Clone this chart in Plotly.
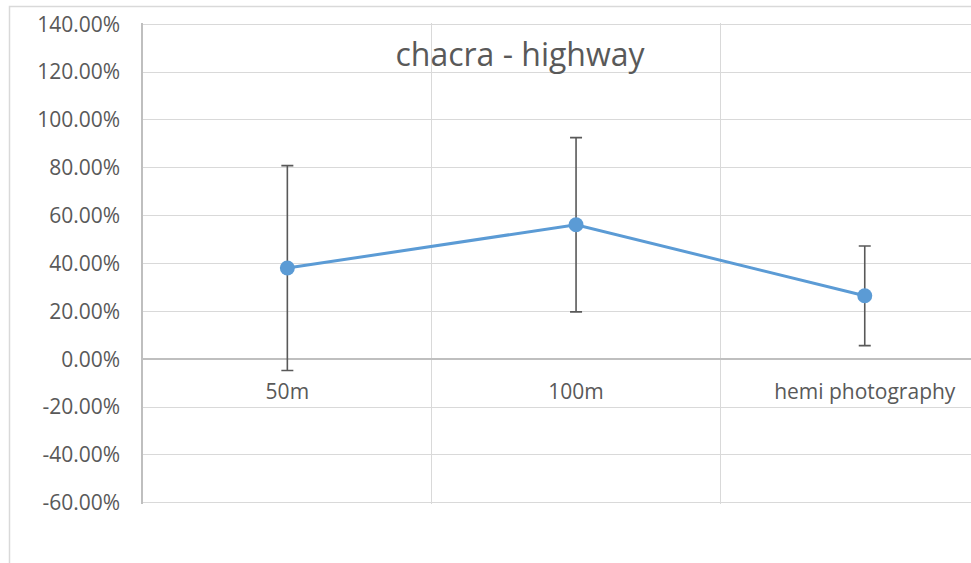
import plotly.graph_objects as go

categories = ["50m", "100m", "hemi photography"]
values = [0.381, 0.562, 0.265]
errors = [0.428, 0.364, 0.208]
y_ticks = [-0.6, -0.4, -0.2, 0.0, 0.2, 0.4, 0.6, 0.8, 1.0, 1.2, 1.4]
y_tick_labels = ["-60.00%", "-40.00%", "-20.00%", "0.00%", "20.00%", "40.00%",
                 "60.00%", "80.00%", "100.00%", "120.00%", "140.00%"]

FONT = "Open Sans"
TXT = "#595959"

W, H = 971, 563
L, T, B = 143, 23, 59
PW = W - L
PH = H - T - B
Y0, Y1 = -0.605, 1.405

fig = go.Figure()
fig.add_trace(go.Scatter(
    x=categories, y=values,
    mode="lines+markers",
    line=dict(color="#5b9bd5", width=3),
    marker=dict(color="#5b9bd5", size=15),
    error_y=dict(type="data", array=errors, visible=True,
                 color="#595959", thickness=1.6, width=6),
    showlegend=False,
    cliponaxis=False,
))

fig.update_layout(
    width=W, height=H,
    margin=dict(l=L, r=0, t=T, b=B),
    paper_bgcolor="white", plot_bgcolor="white",
    font=dict(family=FONT, color=TXT, size=21),
    title=dict(text="chacra - highway", x=520 / W, xref="container", xanchor="center",
               y=1 - 55 / H, yref="container", yanchor="middle",
               font=dict(family=FONT, size=32, color=TXT)),
    xaxis=dict(type="category", tickson="boundaries", range=[-0.5, -0.5 + PW / 288.7],
               showgrid=True, gridcolor="#d9d9d9", gridwidth=1,
               anchor="free", position=(0 - Y0) / (Y1 - Y0), showline=False, ticks="",
               ticklabelstandoff=18, tickfont=dict(size=21, color=TXT, family=FONT),
               zeroline=False),
    yaxis=dict(range=[Y0, Y1], tickvals=y_ticks, ticktext=y_tick_labels,
               showgrid=True, gridcolor="#d9d9d9", gridwidth=1,
               zeroline=True, zerolinecolor="#bfbfbf", zerolinewidth=1.5,
               showline=True, linecolor="#bfbfbf", linewidth=1.5,
               ticks="", ticklabelstandoff=17,
               tickfont=dict(size=21, color=TXT, family=FONT)),
    shapes=[dict(type="rect", xref="paper", yref="paper",
                 x0=(9.5 - L) / PW, x1=1.2,
                 y0=-0.3, y1=(H - B - 6.5) / PH,
                 line=dict(color="#d9d9d9", width=1.5), layer="below")],
)

fig.write_html("out.html", config={"displayModeBar": False},
               post_script="document.body.style.margin='0';")
